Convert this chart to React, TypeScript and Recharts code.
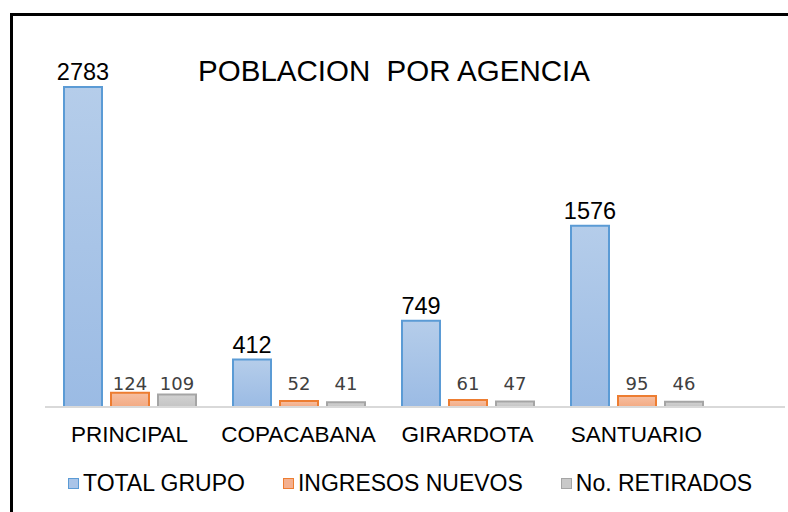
import { Bar, BarChart, LabelList, Legend, XAxis, YAxis } from "recharts";

const AGENCIAS = ["PRINCIPAL", "COPACABANA", "GIRARDOTA", "SANTUARIO"];
const TOTAL_GRUPO = [2783, 412, 749, 1576];
const INGRESOS_NUEVOS = [124, 52, 61, 95];
const RETIRADOS = [109, 41, 47, 46];

const SERIES = [
  { key: "total", name: "TOTAL GRUPO", fill: "url(#gBlue)", stroke: "#5b9bd5", swatch: "#a9c4e8" },
  { key: "nuevos", name: "INGRESOS NUEVOS", fill: "url(#gOrange)", stroke: "#ed7d31", swatch: "#f4b08f" },
  { key: "retirados", name: "No. RETIRADOS", fill: "url(#gGrey)", stroke: "#a5a5a5", swatch: "#c9c9c9" },
];

const data = AGENCIAS.map((a, i) => ({
  agencia: a,
  total: TOTAL_GRUPO[i],
  nuevos: INGRESOS_NUEVOS[i],
  retirados: RETIRADOS[i],
}));

const FONT = "Arial, 'Liberation Sans', sans-serif";

// small labels sit at a fixed height above the baseline
const SmallLabel = (props: any) => {
  const { x, y, width, height, value } = props;
  return (
    <text
      x={x + width / 2}
      y={y + height - 17}
      textAnchor="middle"
      fontSize={18}
      fontFamily="'DejaVu Sans', sans-serif"
      fill="#404040"
    >
      {value}
    </text>
  );
};

const LegendContent = () => (
  <div style={{ display: "flex", gap: 38, whiteSpace: "nowrap", fontFamily: FONT, fontSize: 23, color: "#000" }}>
    {SERIES.map((s) => (
      <div key={s.key} style={{ display: "flex", alignItems: "center" }}>
        <span
          style={{
            display: "inline-block",
            width: 9,
            height: 9,
            background: s.swatch,
            border: `1.5px solid ${s.stroke}`,
            marginRight: 4,
          }}
        />
        <span>{s.name}</span>
      </div>
    ))}
  </div>
);

export default function App() {
  return (
    <div style={{ position: "fixed", left: 0, top: 0, width: 788, height: 512, overflow: "hidden", background: "#fff" }}>
      <div
        style={{
          position: "absolute",
          left: 10,
          top: 13,
          width: 800,
          height: 520,
          border: "3px solid #000",
        }}
      />
      <div
        style={{
          position: "absolute",
          left: 0,
          top: 54,
          width: 788,
          textAlign: "center",
          fontFamily: FONT,
          fontSize: 29.5,
          whiteSpace: "pre",
          color: "#000",
        }}
      >
        POBLACION  POR AGENCIA
      </div>
      <div style={{ position: "absolute", left: 0, top: 0 }}>
        <BarChart
          width={788}
          height={512}
          data={data}
          margin={{ top: 62, right: 3, bottom: 75, left: 45 }}
          barSize={38}
          barGap={9}
        >
          <defs>
            <linearGradient id="gBlue" x1="0" y1="0" x2="0" y2="1">
              <stop offset="0%" stopColor="#b5cdea" />
              <stop offset="100%" stopColor="#9bbbe4" />
            </linearGradient>
            <linearGradient id="gOrange" x1="0" y1="0" x2="0" y2="1">
              <stop offset="0%" stopColor="#f6bfa2" />
              <stop offset="100%" stopColor="#f3aa82" />
            </linearGradient>
            <linearGradient id="gGrey" x1="0" y1="0" x2="0" y2="1">
              <stop offset="0%" stopColor="#d2d2d2" />
              <stop offset="100%" stopColor="#c4c4c4" />
            </linearGradient>
          </defs>
          <XAxis
            dataKey="agencia"
            axisLine={{ stroke: "#d9d9d9", strokeWidth: 2 }}
            tickLine={false}
            tickMargin={13}
            padding={{ left: 0, right: 64 }}
            tick={{ fontSize: 22.5, fill: "#000", fontFamily: FONT }}
            interval={0}
          />
          <YAxis hide domain={[0, 3000]} />
          <Legend
            layout="horizontal"
            verticalAlign="middle"
            align="center"
            content={<LegendContent />}
            wrapperStyle={{ top: 470, left: 68, width: "auto" }}
          />
          {SERIES.map((s, idx) => (
            <Bar
              key={s.key}
              dataKey={s.key}
              name={s.name}
              fill={s.fill}
              stroke={s.stroke}
              strokeWidth={2}
              isAnimationActive={false}
            >
              {idx === 0 ? (
                <LabelList
                  dataKey={s.key}
                  position="top"
                  offset={7}
                  fontSize={23.5}
                  fontFamily={FONT}
                  fill="#000"
                />
              ) : (
                <LabelList dataKey={s.key} content={<SmallLabel />} />
              )}
            </Bar>
          ))}
        </BarChart>
      </div>
    </div>
  );
}
